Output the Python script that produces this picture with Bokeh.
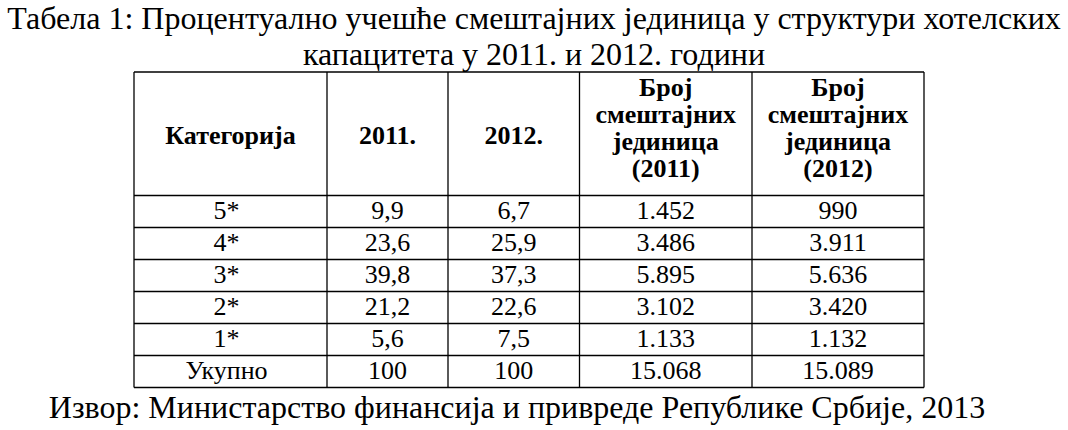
from bokeh.plotting import figure
from bokeh.models import Range1d
from bokeh.core.properties import value
from bokeh.embed import file_html
from bokeh.resources import INLINE

# ---------------- data ----------------
title_lines = [
    "Табела 1: Процентуално учешће смештајних јединица у структури хотелских",
    "капацитета у 2011. и 2012. години",
]
source_text = "Извор: Министарство финансија и привреде Републике Србије, 2013"

header_labels = [
    ["Категорија"],
    ["2011."],
    ["2012."],
    ["Број", "смештајних", "јединица", "(2011)"],
    ["Број", "смештајних", "јединица", "(2012)"],
]
categories = ["5*", "4*", "3*", "2*", "1*", "Укупно"]
share_2011 = [9.9, 23.6, 39.8, 21.2, 5.6, 100]
share_2012 = [6.7, 25.9, 37.3, 22.6, 7.5, 100]
units_2011 = [1452, 3486, 5895, 3102, 1133, 15068]
units_2012 = [990, 3911, 5636, 3420, 1132, 15089]


def fmt_share(v):
    if float(v).is_integer():
        return str(int(v))
    return f"{v:.1f}".replace(".", ",")


def fmt_units(v):
    return f"{v:,}".replace(",", ".")


columns = [
    categories,
    [fmt_share(v) for v in share_2011],
    [fmt_share(v) for v in share_2012],
    [fmt_units(v) for v in units_2011],
    [fmt_units(v) for v in units_2012],
]

# ---------------- layout (page pixel coordinates) ----------------
W, H = 1068, 430
col_edges = [133.5, 326.5, 447.5, 579.0, 751.5, 923.5]
table_top = 71.5
header_bottom = 195.0
row_h = 32.0
n_rows = len(categories)
row_edges = [header_bottom + i * row_h for i in range(n_rows + 1)]
table_bottom = row_edges[-1]

FONT = value("Liberation Serif")
TITLE_PX, HEAD_PX, BODY_PX = 32, 26, 26
SHIFT = 0.31  # empirical baseline correction (fraction of font size)


def base(y, px):
    return y - SHIFT * px


p = figure(width=W, height=H, output_backend="svg", toolbar_location=None,
           x_range=Range1d(0, W), y_range=Range1d(H, 0),
           min_border=0, outline_line_color=None,
           background_fill_color="white", border_fill_color="white")
p.axis.visible = False
p.grid.visible = False

# grid lines
hx0, hx1, hy = [], [], []
for y in [table_top] + row_edges:
    hx0.append(col_edges[0]); hx1.append(col_edges[-1]); hy.append(y)
p.segment(x0=hx0, y0=hy, x1=hx1, y1=hy, line_color="black", line_width=1.3)
vx, vy0, vy1 = [], [], []
for x in col_edges:
    vx.append(x); vy0.append(table_top); vy1.append(table_bottom)
p.segment(x0=vx, y0=vy0, x1=vx, y1=vy1, line_color="black", line_width=1.3)

# title
p.text(x=[533.5, 533.5], y=[base(27, TITLE_PX), base(63, TITLE_PX)],
       text=title_lines, text_font=FONT, text_font_size=f"{TITLE_PX}px",
       text_align="center", text_baseline="alphabetic", text_color="black")
# source
p.text(x=[516.5], y=[base(416, TITLE_PX)], text=[source_text], text_font=FONT,
       text_font_size=f"{TITLE_PX}px", text_align="center",
       text_baseline="alphabetic", text_color="black")

# header cells
centers = [(col_edges[i] + col_edges[i + 1]) / 2 for i in range(len(col_edges) - 1)]
hx, hyy, ht = [], [], []
line_gap = 27.0
for ci, lines in enumerate(header_labels):
    if len(lines) == 1:
        ys = [143.0]
    else:
        ys = [95.0 + k * line_gap for k in range(len(lines))]
    for y, t in zip(ys, lines):
        hx.append(centers[ci]); hyy.append(base(y, HEAD_PX)); ht.append(t)
p.text(x=hx, y=hyy, text=ht, text_font=FONT, text_font_size=f"{HEAD_PX}px",
       text_font_style="bold", text_align="center", text_baseline="alphabetic",
       text_color="black")

# body cells
body_centers = list(centers)
body_centers[0] = centers[0] - 4
bx, by, bt = [], [], []
for ci, col in enumerate(columns):
    for ri, t in enumerate(col):
        bx.append(body_centers[ci]); by.append(base(row_edges[ri] + 23.0, BODY_PX)); bt.append(t)
p.text(x=bx, y=by, text=bt, text_font=FONT, text_font_size=f"{BODY_PX}px",
       text_align="center", text_baseline="alphabetic", text_color="black")

open("out.html", "w").write(file_html(p, INLINE))
